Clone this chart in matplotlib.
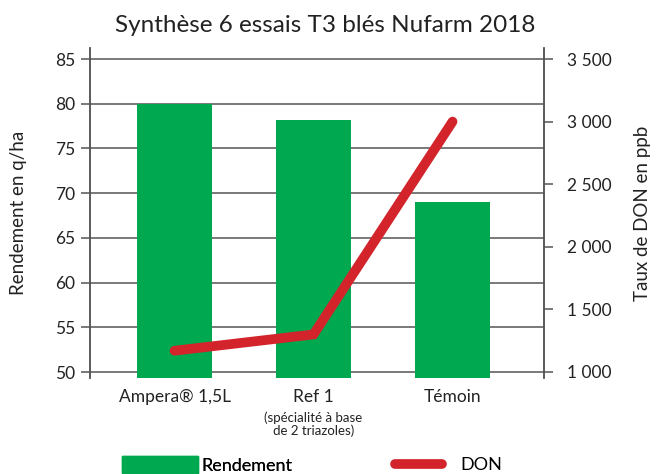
import matplotlib
matplotlib.use('Agg')
import matplotlib.pyplot as plt
from matplotlib.patches import Patch
from matplotlib.lines import Line2D

plt.rcParams['font.family'] = ['Lato', 'DejaVu Sans']

# data
categories = ['Ampera® 1,5L', 'Ref 1', 'Témoin']
rendement = [80.0, 78.2, 69.0]
don = [1170, 1300, 3000]
left_ticks = [50, 55, 60, 65, 70, 75, 80, 85]
right_ticks = [1000, 1500, 2000, 2500, 3000, 3500]
right_labels = ['1 000', '1 500', '2 000', '2 500', '3 000', '3 500']

green = '#00a84f'
red = '#d3242c'
grey = '#555555'

fig = plt.figure(figsize=(6.56, 4.74), dpi=100)
ax = fig.add_axes([90/656, 1-378/474, (544-90)/656, (378-48)/474])
ax2 = ax.twinx()

x = range(len(categories))
ax.bar(x, rendement, width=0.54, color=green, zorder=2)
ax.set_xlim(-0.608, 2.658)
ax.set_ylim(49.33, 86.23)
ax.set_yticks(left_ticks)
ax.yaxis.grid(True, color=grey, lw=1.1, zorder=0)
ax.set_axisbelow(True)
ax.tick_params(axis='y', direction='out', length=6.5, width=1.1, color=grey,
               labelsize=12.5, pad=4, labelcolor='#222222')
ax.set_xticks(list(x))
ax.set_xticklabels(categories, fontsize=12.5, color='#222222')
ax.tick_params(axis='x', length=0, pad=8)

ax2.plot(x, don, color=red, lw=7, solid_capstyle='round', solid_joinstyle='miter', zorder=3)
ax2.set_ylim(952, 3588)
ax2.set_yticks(right_ticks)
ax2.set_yticklabels(right_labels)
ax2.tick_params(axis='y', direction='out', length=6.5, width=1.1, color=grey,
                labelsize=12.5, pad=10, labelcolor='#222222')

for a in (ax, ax2):
    for s in ('top', 'bottom'):
        a.spines[s].set_visible(False)
    for s in ('left', 'right'):
        a.spines[s].set_color(grey)
        a.spines[s].set_linewidth(1.1)

ax.set_ylabel('Rendement en q/ha', fontsize=13.5, color='#222222', labelpad=20)
ax2.set_ylabel('Taux de DON en ppb', fontsize=13.5, color='#222222', labelpad=16)

# sub label under Ref 1
ax.annotate('(spécialité à base\nde 2 triazoles)', xy=(1, 0), xycoords=('data', 'axes fraction'),
            xytext=(0, -24), textcoords='offset points', ha='center', va='top',
            fontsize=9.5, color='#222222', linespacing=1.1)

fig.text(325/656, 1-25/474, 'Synthèse 6 essais T3 blés Nufarm 2018', ha='center', va='center',
         fontsize=17.5, color='#222222')

leg1 = fig.legend(handles=[Patch(color=green, label='Rendement')], loc='center left',
                  bbox_to_anchor=(122/656, 1-465/474), frameon=False, fontsize=13,
                  handlelength=4.2, handleheight=1.1, handletextpad=0.2,
                  borderpad=0, borderaxespad=0)
fig.legend(handles=[Line2D([], [], color=red, lw=7, solid_capstyle='round', label='DON')],
           loc='center left', bbox_to_anchor=(395/656, 1-465/474), frameon=False, fontsize=13,
           handlelength=2.6, handletextpad=1.0, borderpad=0, borderaxespad=0)
fig.add_artist(leg1)

plt.savefig('out.png', dpi=100)
